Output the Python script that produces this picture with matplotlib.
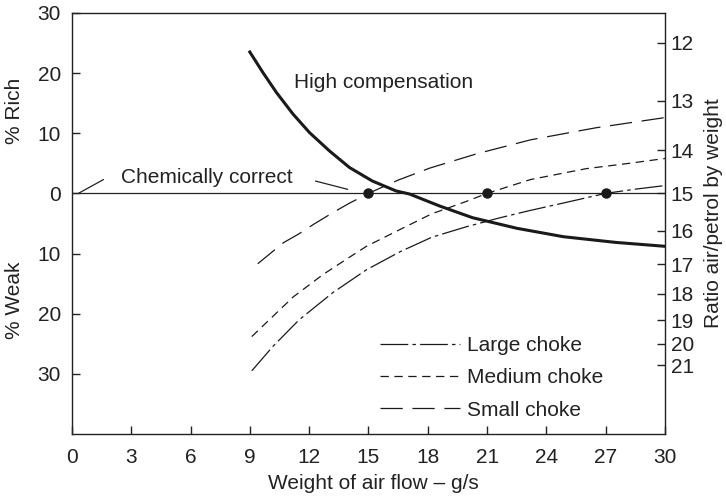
import matplotlib
matplotlib.use("Agg")
import matplotlib.pyplot as plt

plt.rcParams['font.family'] = ['Liberation Sans', 'DejaVu Sans']
plt.rcParams['lines.scale_dashes'] = False

# values
x_ticks = [0, 3, 6, 9, 12, 15, 18, 21, 24, 27, 30]
y_ticks = [30, 20, 10, 0, -10, -20, -30]
y_ticklabels = ['30', '20', '10', '0', '10', '20', '30']
ratio_ticks = [12, 13, 14, 15, 16, 17, 18, 19, 20, 21]

high_x = [9.0, 9.66, 10.34, 11.18, 12.02, 13.03, 14.04, 15.2, 16.4, 17.07, 18.6,
          20.27, 22.5, 24.85, 27.5, 30]
high_y = [23.5, 20.1, 16.8, 13.2, 10.1, 7.05, 4.3, 2.05, 0.4, -0.1, -2.1,
          -4.05, -5.8, -7.2, -8.15, -8.8]

small_x = [9.4, 10.7, 11.5, 12.2, 13.2, 14, 15, 16.5, 18.1, 20.5, 23.2, 26.5, 30]
small_y = [-11.7, -8.2, -6.7, -5.2, -3.2, -1.7, 0, 2.2, 4.2, 6.6, 8.9, 10.9, 12.6]

medium_x = [9.1, 10.15, 11.2, 12.7, 14.0, 14.9, 16.6, 18.2, 19.9, 21, 23.2, 26, 28.2, 30]
medium_y = [-23.8, -20.5, -17.2, -13.5, -10.7, -8.8, -6.0, -3.4, -1.4, 0, 2.3, 4.1, 5.0, 5.8]

large_x = [9.1, 10.15, 11.5, 13.2, 14.9, 16.6, 18.2, 19.9, 21.6, 23.1, 25, 27, 28.5, 30]
large_y = [-29.5, -25.5, -21, -16.5, -12.7, -9.7, -7.3, -5.6, -4.1, -2.9, -1.5, 0, 0.7, 1.3]

dot_x = [15, 21, 27]
dot_y = [0, 0, 0]

ink = '#222222'
fs = 15

fig = plt.figure(figsize=(7.26, 4.96), dpi=100)
ax = fig.add_axes([0.099, 0.125, 0.817, 0.849])

ax.axhline(0, color=ink, lw=0.9)
ax.plot(high_x, high_y, color='#1a1a1a', lw=2.2, solid_joinstyle='round')
ax.plot(large_x, large_y, color='#1a1a1a', lw=0.9, dashes=(20, 3, 2.5, 3), label='Large choke')
ax.plot(medium_x, medium_y, color='#1a1a1a', lw=0.9, dashes=(6, 4), label='Medium choke')
ax.plot(small_x, small_y, color='#1a1a1a', lw=0.9, dashes=(16, 7), label='Small choke')
ax.plot(dot_x, dot_y, 'o', color='#1a1a1a', ms=6.5, zorder=5)

ax.set_xlim(0, 30)
ax.set_ylim(-40, 30)
ax.set_xticks(x_ticks)
ax.set_yticks(y_ticks)
ax.set_yticklabels(y_ticklabels)
ax.tick_params(direction='in', length=6, width=1, labelsize=fs, colors=ink)
ax.tick_params(axis='y', pad=8)
ax.tick_params(axis='x', pad=10)
for s in ax.spines.values():
    s.set_linewidth(1.0)
    s.set_color(ink)

ax.set_xlabel('Weight of air flow – g/s', fontsize=fs, color=ink)
ax.xaxis.set_label_coords(0.509, -0.095)

# % rich / % weak labels on the left
ax.text(-0.096, 13.7, '% Rich', transform=ax.get_yaxis_transform(), rotation=90,
        ha='center', va='center', fontsize=fs, color=ink)
ax.text(-0.096, -17.7, '% Weak', transform=ax.get_yaxis_transform(), rotation=90,
        ha='center', va='center', fontsize=fs, color=ink)

ax.text(11.26, 18.5, 'High compensation', fontsize=fs, color=ink, va='center')
ax.text(2.5, 2.7, 'Chemically correct', fontsize=fs, color=ink, va='center')
ax.annotate('', xy=(0.33, 0), xytext=(1.6, 2.3),
            arrowprops=dict(arrowstyle='-', color=ink, lw=0.9, shrinkA=0, shrinkB=0))
ax.annotate('', xy=(13.95, 0.67), xytext=(12.32, 2.05),
            arrowprops=dict(arrowstyle='-', color=ink, lw=0.9, shrinkA=0, shrinkB=0))

leg = ax.legend(loc='upper left', bbox_to_anchor=(0.519, 0.232), frameon=False,
                fontsize=fs, handlelength=3.84, handletextpad=0.34, labelspacing=0.63,
                borderpad=0, borderaxespad=0)
for t in leg.get_texts():
    t.set_color(ink)

# air/petrol ratio on the right, 15:1 is chemically correct
ax2 = ax.twinx()
ax2.set_ylim(ax.get_ylim())
ax2.set_yticks([100 * (15 / r - 1) for r in ratio_ticks])
ax2.set_yticklabels([str(r) for r in ratio_ticks])
ax2.tick_params(direction='in', length=6, width=1, labelsize=fs, pad=4, colors=ink)
for s in ax2.spines.values():
    s.set_visible(False)

fig.text(0.983, 0.571, 'Ratio air/petrol by weight', rotation=90, ha='center', va='center',
         fontsize=fs, color=ink)

fig.savefig('out.png', dpi=100)
